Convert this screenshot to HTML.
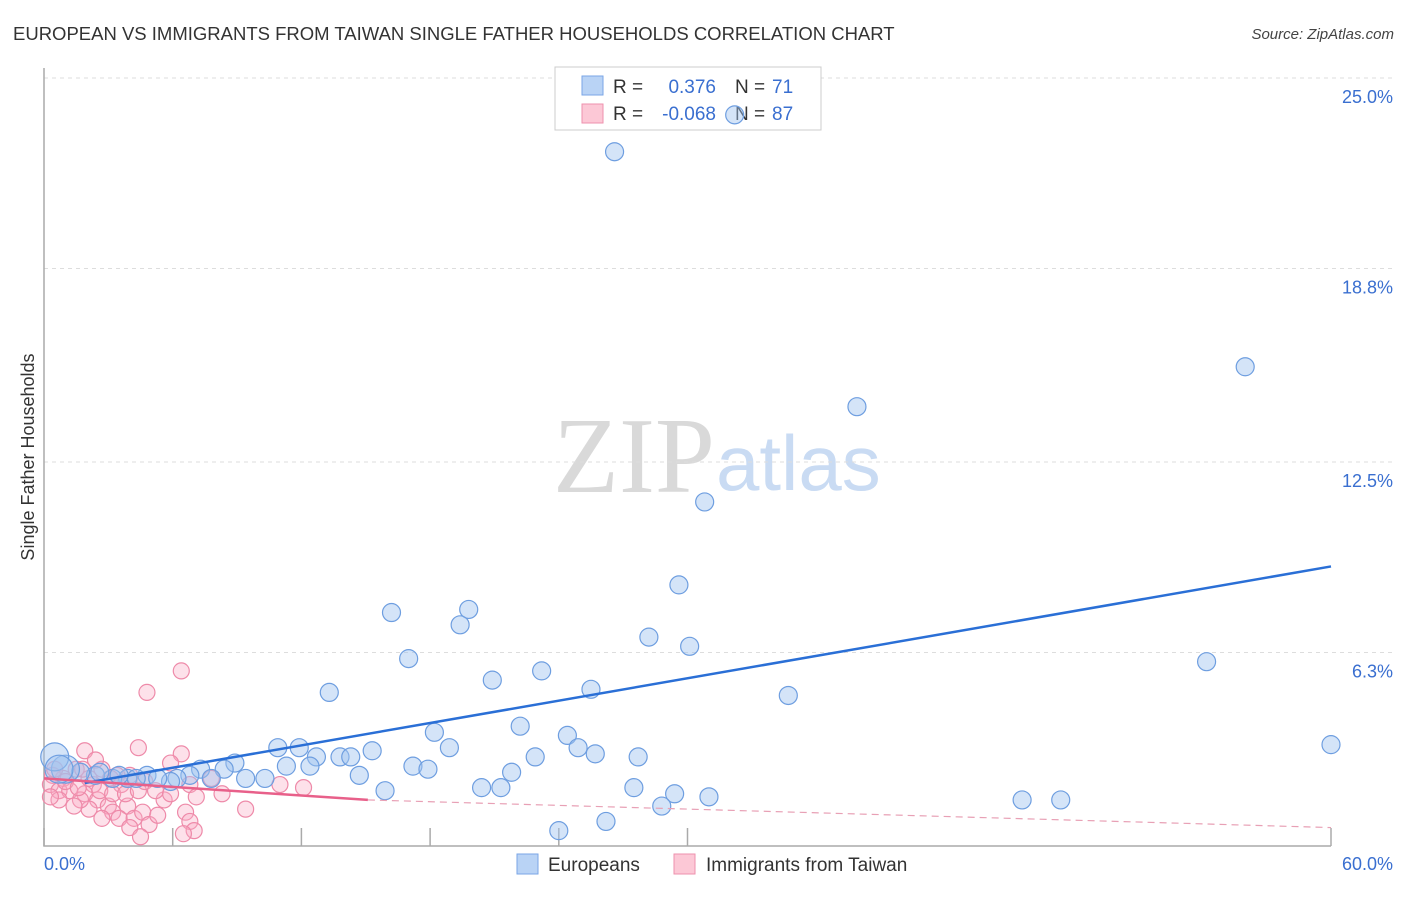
<!DOCTYPE html>
<html><head><meta charset="utf-8"><style>
body{margin:0;background:#fff;width:1406px;height:892px;overflow:hidden;font-family:"Liberation Sans",sans-serif}
</style></head><body>
<svg id="chart" width="1406" height="892" xmlns="http://www.w3.org/2000/svg" font-family="Liberation Sans, sans-serif">
<text x="13" y="40" font-size="18.5" fill="#333">EUROPEAN VS IMMIGRANTS FROM TAIWAN SINGLE FATHER HOUSEHOLDS CORRELATION CHART</text>
<text x="1394" y="39" font-size="15" fill="#444" text-anchor="end" font-style="italic">Source: ZipAtlas.com</text>
<text transform="translate(34,457) rotate(-90)" font-size="18" fill="#333" text-anchor="middle">Single Father Households</text>
<g>
<text x="553" y="492" font-size="108" fill="#d9d9d9" font-family="Liberation Serif, serif">ZIP</text>
<text x="716" y="490" font-size="78" fill="#c9dbf3">atlas</text>
</g>
<g id="grid"></g>
<g id="axes"></g>
<g>
<rect x="555" y="67" width="266" height="63" fill="#fff" stroke="#ccc"/>
<rect x="582" y="76" width="21" height="19" fill="#b9d3f5" stroke="#7aa6e6"/>
<rect x="582" y="104" width="21" height="19" fill="#fcc8d6" stroke="#ee91ad"/>
<text x="613" y="93" font-size="19" fill="#333">R =</text>
<text x="716" y="93" font-size="19" fill="#3a6fd0" text-anchor="end">0.376</text>
<text x="735" y="93" font-size="19" fill="#333">N =</text>
<text x="772" y="93" font-size="19" fill="#3a6fd0">71</text>
<text x="613" y="120" font-size="19" fill="#333">R =</text>
<text x="716" y="120" font-size="19" fill="#3a6fd0" text-anchor="end">-0.068</text>
<text x="735" y="120" font-size="19" fill="#333">N =</text>
<text x="772" y="120" font-size="19" fill="#3a6fd0">87</text>
</g>
<g id="pts"></g>
<g id="trends"></g>
<g>
<rect x="517" y="854" width="21" height="20" fill="#b9d3f5" stroke="#7aa6e6"/>
<text x="548" y="871" font-size="19" fill="#333">Europeans</text>
<rect x="674" y="854" width="21" height="20" fill="#fcc8d6" stroke="#ee91ad"/>
<text x="706" y="871" font-size="19" fill="#333">Immigrants from Taiwan</text>
</g>
</svg>
<script>
const euroX=[26.6,32.2,56.0,37.9,30.8,29.6,16.2,19.8,19.4,28.2,30.1,17.0,54.2,23.2,20.9,25.5,13.3,34.7,22.2,18.2,24.4,60.0,10.9,11.9,18.9,24.9,15.3,25.7,27.7,22.9,12.7,13.8,14.3,8.9,11.3,12.4,17.2,17.9,21.8,7.3,8.4,14.7,9.4,10.3,7.8,6.8,6.2,5.9,4.8,5.3,3.9,4.3,3.2,2.4,1.7,1.0,0.5,0.7,15.9,20.4,21.3,27.5,29.4,31.0,28.8,45.6,47.4,26.2,24.0,2.6,3.5];
const euroY=[22.6,23.8,15.6,14.3,11.2,8.5,7.6,7.7,7.2,6.8,6.5,6.1,6.0,5.7,5.4,5.1,5.0,4.9,3.9,3.7,3.6,3.3,3.2,3.2,3.2,3.2,3.1,3.0,2.9,2.9,2.9,2.9,2.9,2.7,2.6,2.6,2.6,2.5,2.4,2.5,2.5,2.3,2.2,2.2,2.2,2.3,2.2,2.1,2.3,2.2,2.2,2.2,2.2,2.3,2.4,2.5,2.9,2.5,1.8,1.9,1.9,1.9,1.7,1.6,1.3,1.5,1.5,0.8,0.5,2.4,2.3];
const taiX=[6.4,4.8,4.4,6.4,1.9,5.9,1.5,4.0,3.4,2.7,3.1,3.6,2.3,0.9,0.4,0.3,0.7,1.2,1.9,2.5,3.0,2.1,1.7,3.2,3.9,2.7,4.2,4.6,3.5,4.0,4.9,4.5,5.3,5.6,6.8,7.1,6.6,6.8,7.0,6.5,7.8,8.3,9.4,12.1,11.0,0.7,1.4,2.6,3.2,3.8,4.4,0.5,1.0,1.6,2.1,4.7,5.2,5.9,0.3,1.8,2.4];
const taiY=[5.7,5.0,3.2,3.0,3.1,2.7,2.5,2.3,2.3,2.5,2.2,2.0,2.0,2.2,2.3,2.0,1.8,1.8,1.7,1.5,1.3,1.2,1.5,1.1,1.3,0.9,0.9,1.1,0.9,0.6,0.7,0.3,1.0,1.5,2.0,1.6,1.1,0.8,0.5,0.4,2.2,1.7,1.2,1.9,2.0,1.5,1.3,1.8,1.7,1.7,1.8,2.5,2.1,1.9,2.2,2.1,1.8,1.7,1.6,2.5,2.8];
const euroTrendX=[1.9,60];
const euroTrendY=[2.05,9.1];
const taiTrendX=[0,15.1,60];
const taiTrendY=[2.2,1.5,0.6];
const yTicks=[25.0,18.8,12.5,6.3];
const yTickLabels=["25.0%","18.8%","12.5%","6.3%"];
const xTicks=[0,6,12,18,24,30,60];

const NS="http://www.w3.org/2000/svg";
const X0=44,X1=1331,Y0=846,Y1=78;
function xs(v){return X0+(v/60)*(X1-X0);}
function ys(v){return Y0-(v/25)*(Y0-Y1);}
function mk(tag,attrs,parent){const e=document.createElementNS(NS,tag);for(const k in attrs)e.setAttribute(k,attrs[k]);parent.appendChild(e);return e;}
const grid=document.getElementById('grid'),axes=document.getElementById('axes'),pts=document.getElementById('pts'),tr=document.getElementById('trends');
yTicks.forEach((t,i)=>{
  const l=mk('line',{x1:X0,x2:1394,y1:ys(t),y2:ys(t),stroke:'#ddd','stroke-dasharray':'4,4'},grid);
  
  
  const tx=mk('text',{x:1393,y:ys(t)+25,'font-size':18,fill:'#3a6fd0','text-anchor':'end'},axes);
  tx.textContent=yTickLabels[i];
  
  
});
const ax=mk('path',{d:`M${X0} 68V${Y0}H${X1}`,stroke:'#aaa',fill:'none','stroke-width':1.5},axes);


xTicks.forEach(t=>{
  const l=mk('line',{x1:xs(t),x2:xs(t),y1:Y0,y2:Y0-18,stroke:'#aaa','stroke-width':1.5},axes);
  
  
});
const xl0=mk('text',{x:44,y:870,'font-size':18,fill:'#3a6fd0'},axes);xl0.textContent='0.0%';


const xl1=mk('text',{x:1393,y:870,'font-size':18,fill:'#3a6fd0','text-anchor':'end'},axes);xl1.textContent='60.0%';


taiX.forEach((v,i)=>{
  const c=mk('circle',{cx:xs(v),cy:ys(taiY[i]),r:8,fill:'rgba(248,170,195,0.35)',stroke:'#ee8aa9','stroke-width':1.2},pts);
  
  
});
euroX.forEach((v,i)=>{
  const big=(v<1.2);
  const c=mk('circle',{cx:xs(v),cy:ys(euroY[i]),r:big?14:9,fill:'rgba(160,195,240,0.45)',stroke:'#6e9ee0','stroke-width':1.2},pts);
  
  
});
const bl=mk('line',{x1:xs(euroTrendX[0]),y1:ys(euroTrendY[0]),x2:xs(euroTrendX[1]),y2:ys(euroTrendY[1]),stroke:'#2a6fd6','stroke-width':2.5},tr);


const pl=mk('line',{x1:xs(taiTrendX[0]),y1:ys(taiTrendY[0]),x2:xs(taiTrendX[1]),y2:ys(taiTrendY[1]),stroke:'#e8608a','stroke-width':2.5},tr);


const pd=mk('line',{x1:xs(taiTrendX[1]),y1:ys(taiTrendY[1]),x2:xs(taiTrendX[2]),y2:ys(taiTrendY[2]),stroke:'#e8a0b5','stroke-width':1.2,'stroke-dasharray':'7,5'},tr);


</script>
</body></html>
